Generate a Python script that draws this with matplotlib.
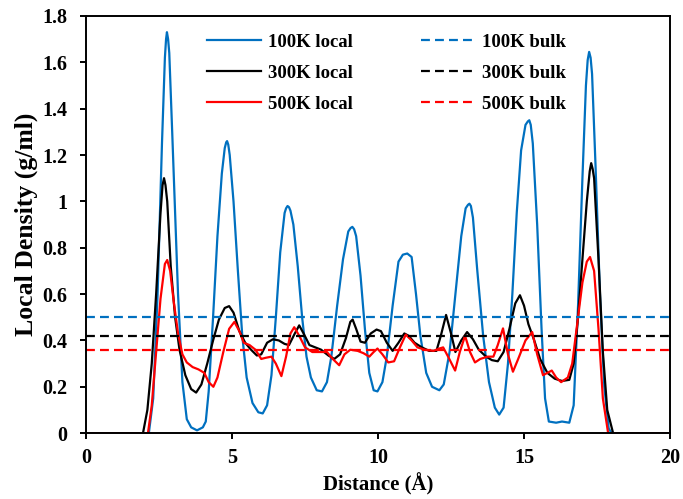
import numpy as np
import matplotlib
matplotlib.use("Agg")
from matplotlib import pyplot as plt

# local density profiles across the slit (distance in angstrom, density in g/ml)
x_100 = [0, 2.15, 2.3, 2.45, 2.6, 2.7, 2.74, 2.77, 2.81, 2.85, 2.95, 3.05, 3.15, 3.3, 3.45, 3.6, 3.8, 4.0,
         4.1, 4.2, 4.35, 4.5, 4.65, 4.75, 4.8, 4.83, 4.87, 4.92, 5.05, 5.2, 5.35, 5.5, 5.7, 5.9, 6.05, 6.2,
         6.35, 6.5, 6.65, 6.8, 6.85, 6.9, 6.95, 7.0, 7.1, 7.25, 7.4, 7.55, 7.7, 7.9, 8.08, 8.25, 8.4, 8.6,
         8.8, 8.98, 9.06, 9.12, 9.18, 9.25, 9.4, 9.55, 9.7, 9.85, 9.98, 10.15, 10.3, 10.5, 10.7, 10.85, 11.0,
         11.15, 11.3, 11.45, 11.65, 11.85, 12.1, 12.25, 12.45, 12.65, 12.85, 13.0, 13.08, 13.13, 13.18, 13.25,
         13.4, 13.6, 13.8, 14.0, 14.15, 14.3, 14.45, 14.6, 14.75, 14.9, 15.05, 15.13, 15.18, 15.23, 15.3, 15.45,
         15.6, 15.72, 15.85, 16.1, 16.3, 16.55, 16.7, 16.85, 17.0, 17.12, 17.18, 17.23, 17.28, 17.33, 17.45,
         17.6, 17.75, 17.9, 18.0, 20]
rho_100 = [0, 0, 0.15, 0.6, 1.25, 1.62, 1.70, 1.73, 1.70, 1.64, 1.3, 0.95, 0.6, 0.22, 0.06, 0.025, 0.012, 0.025,
           0.05, 0.18, 0.5, 0.85, 1.12, 1.23, 1.255, 1.26, 1.245, 1.2, 1.0, 0.7, 0.42, 0.24, 0.13, 0.09, 0.085, 0.12,
           0.25, 0.5, 0.78, 0.95, 0.97, 0.98, 0.975, 0.96, 0.9, 0.72, 0.5, 0.33, 0.24, 0.185, 0.18, 0.22, 0.33, 0.55,
           0.75, 0.87, 0.885, 0.89, 0.88, 0.85, 0.68, 0.45, 0.26, 0.185, 0.18, 0.22, 0.33, 0.55, 0.74, 0.77, 0.775,
           0.76, 0.6, 0.42, 0.26, 0.2, 0.185, 0.21, 0.35, 0.6, 0.85, 0.97, 0.985, 0.99, 0.98, 0.93,
           0.7, 0.42, 0.22, 0.11, 0.08, 0.11, 0.3, 0.6, 0.95, 1.22, 1.33, 1.345, 1.35, 1.33, 1.25, 0.9,
           0.45, 0.15, 0.05, 0.045, 0.05, 0.045, 0.12, 0.55, 1.1, 1.5, 1.61, 1.645, 1.62, 1.55, 1.15,
           0.6, 0.2, 0.02, 0, 0]

x_300 = [0, 1.95, 2.1, 2.25, 2.4, 2.55, 2.62, 2.67, 2.72, 2.78, 2.9, 3.05, 3.2, 3.4, 3.6, 3.77, 3.95, 4.15,
         4.35, 4.55, 4.75, 4.9, 5.05, 5.25, 5.45, 5.65, 5.85, 6.0, 6.2, 6.4, 6.6, 6.8, 6.95, 7.15,
         7.3, 7.45, 7.65, 7.85, 8.05, 8.3, 8.5, 8.7, 8.9, 9.05, 9.13, 9.25, 9.4, 9.55, 9.75, 9.95,
         10.1, 10.3, 10.5, 10.7, 10.9, 11.05, 11.25, 11.5, 11.75, 12.0, 12.15, 12.33, 12.5, 12.65,
         12.85, 13.05, 13.25, 13.45, 13.7, 13.9, 14.1, 14.3, 14.5, 14.7, 14.86, 15.0, 15.15, 15.35,
         15.55, 15.8, 16.05, 16.3, 16.55, 16.7, 16.85, 17.0, 17.15, 17.25, 17.3, 17.35, 17.4, 17.55, 17.7, 17.85,
         18.05, 20]
rho_300 = [0, 0, 0.1, 0.3, 0.6, 0.95, 1.07, 1.10, 1.07, 1.0, 0.72, 0.5, 0.36, 0.25, 0.19, 0.175, 0.21, 0.3,
           0.4, 0.49, 0.54, 0.548, 0.52, 0.44, 0.39, 0.36, 0.335, 0.34, 0.39, 0.405, 0.40, 0.385, 0.38, 0.43,
           0.465, 0.43, 0.38, 0.37, 0.36, 0.335, 0.32, 0.34, 0.41, 0.48, 0.49, 0.45, 0.395, 0.39, 0.43, 0.447,
           0.44, 0.39, 0.355, 0.39, 0.43, 0.42, 0.39, 0.37, 0.355, 0.355, 0.42, 0.51, 0.43, 0.35,
           0.40, 0.436, 0.405, 0.36, 0.33, 0.315, 0.31, 0.35, 0.45, 0.56, 0.595, 0.55, 0.47, 0.4,
           0.32, 0.26, 0.235, 0.225, 0.23, 0.3, 0.5, 0.75, 1.0, 1.13, 1.165, 1.14, 1.1, 0.75, 0.35, 0.1,
           0, 0]

x_500 = [0, 2.12, 2.25, 2.4, 2.55, 2.7, 2.78, 2.88, 3.0, 3.15, 3.3, 3.45, 3.65, 3.85, 4.05, 4.2,
         4.36, 4.5, 4.7, 4.9, 5.08, 5.25, 5.4, 5.6, 5.8, 6.0, 6.15, 6.35, 6.5, 6.69, 6.85, 7.0,
         7.13, 7.3, 7.5, 7.75, 8.0, 8.25, 8.45, 8.67, 8.85, 9.05, 9.3, 9.5, 9.7, 9.85, 9.98, 10.15,
         10.35, 10.55, 10.75, 10.95, 11.15, 11.35, 11.6, 11.9, 12.1, 12.23, 12.4, 12.64, 12.8, 12.98,
         13.15, 13.32, 13.5, 13.75, 13.95, 14.1, 14.28, 14.45, 14.62, 14.8, 15.05, 15.28, 15.45,
         15.65, 15.8, 15.95, 16.1, 16.27, 16.5, 16.65, 16.8, 17.0, 17.15, 17.26, 17.4, 17.55, 17.7, 17.88, 20]
rho_500 = [0, 0, 0.12, 0.35, 0.58, 0.73, 0.747, 0.7, 0.57, 0.43, 0.34, 0.305, 0.285, 0.275, 0.26, 0.22,
           0.2, 0.24, 0.35, 0.45, 0.48, 0.44, 0.39, 0.38, 0.36, 0.32, 0.325, 0.33, 0.3, 0.246, 0.33, 0.43,
           0.457, 0.42, 0.37, 0.35, 0.35, 0.35, 0.32, 0.293, 0.34, 0.36, 0.355, 0.345, 0.33, 0.35, 0.365, 0.34,
           0.305, 0.31, 0.37, 0.425, 0.4, 0.37, 0.36, 0.355, 0.365, 0.37, 0.33, 0.27, 0.35, 0.42,
           0.35, 0.305, 0.32, 0.33, 0.33, 0.38, 0.452, 0.34, 0.265, 0.32, 0.4, 0.436, 0.34,
           0.25, 0.26, 0.27, 0.24, 0.22, 0.24, 0.3, 0.45, 0.65, 0.74, 0.76, 0.7, 0.45, 0.15, 0, 0]

# bulk densities
bulk_100 = 0.503
bulk_300 = 0.418
bulk_500 = 0.357

blue = '#0070C0'
black = '#000000'
red = '#FF0000'
dash = (0, (4, 2.3))

plt.rcParams['font.family'] = 'Liberation Serif'
plt.rcParams['font.weight'] = 'bold'

fig = plt.figure(figsize=(6.83, 4.99), dpi=100)
ax = fig.add_axes([0.126, 0.132, 0.855, 0.836])

l1, = ax.plot(x_100, rho_100, color=blue, lw=1.6, label='100K local')
l2, = ax.plot(x_300, rho_300, color=black, lw=1.6, label='300K local')
l3, = ax.plot(x_500, rho_500, color=red, lw=1.6, label='500K local')
b1 = ax.axhline(bulk_100, color=blue, lw=1.6, ls=dash, label='100K bulk')
b2 = ax.axhline(bulk_300, color=black, lw=1.6, ls=dash, label='300K bulk')
b3 = ax.axhline(bulk_500, color=red, lw=1.6, ls=dash, label='500K bulk')

ax.set_xlim(0, 20)
ax.set_ylim(0, 1.8)
ax.set_xticks([0, 5, 10, 15, 20])
ax.set_yticks(np.arange(0, 1.81, 0.2))
ax.set_yticklabels(['0', '0.2', '0.4', '0.6', '0.8', '1', '1.2', '1.4', '1.6', '1.8'])
ax.tick_params(direction='out', length=4, width=1.4, labelsize=14.5, top=False, right=False)
ax.tick_params(axis='x', pad=7)
ax.tick_params(axis='y', pad=9.5)
for s in ax.spines.values():
    s.set_linewidth(1.4)

ax.set_xlabel('Distance (Å)', fontsize=15, fontweight='bold', labelpad=3)
ax.set_ylabel('Local Density (g/ml)', fontsize=18.5, fontweight='bold', labelpad=3)

ax.legend(handles=[l1, l2, l3, b1, b2, b3], ncol=2, frameon=False, fontsize=13.5,
          loc='upper left', bbox_to_anchor=(0.207, 0.958), borderpad=0, borderaxespad=0,
          handlelength=2.9, columnspacing=3.6, labelspacing=0.74, handletextpad=0.37)

fig.savefig('out.png', dpi=100)
